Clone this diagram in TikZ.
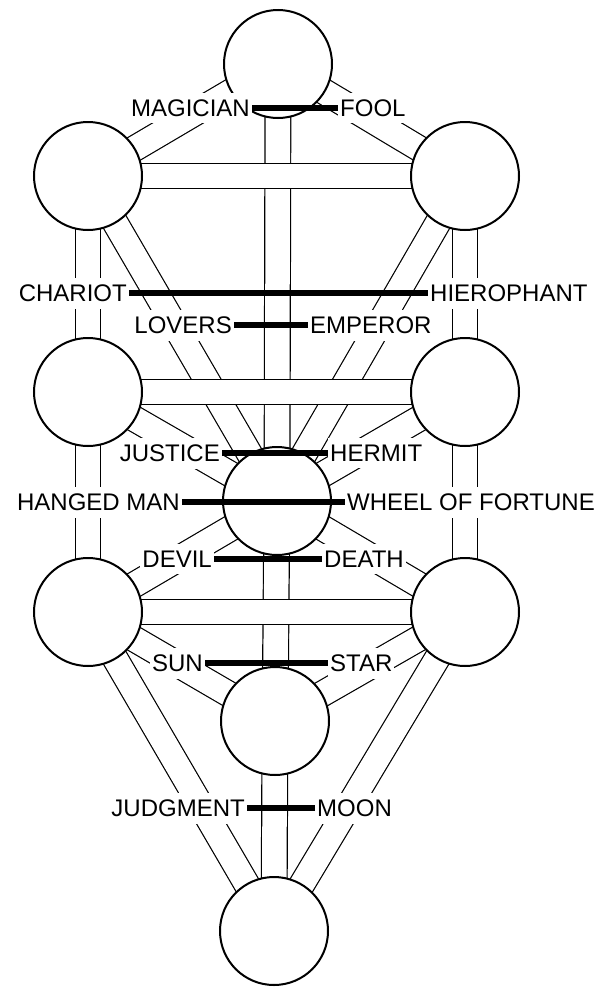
\documentclass[tikz,border=0pt]{standalone}
\usepackage{fontspec}
\setmainfont{Liberation Sans}
\usetikzlibrary{positioning, backgrounds}
\tikzset{
  every node/.style={font=\fontsize{24}{26}\selectfont},
  sephira/.style={
    circle, draw=black, line width=2pt, fill=white,
    minimum size=108pt, inner sep=0pt
  },
  channel/.style={double, draw=black, line width=1.2pt, double distance=24.5pt},
  card/.style={fill=white, inner xsep=2pt, inner ysep=7pt, text=black},
  bar/.style={line width=5.5pt},
}

\begin{document}
\begin{tikzpicture}[x=1pt, y=-1pt]
        \useasboundingbox (0,0) rectangle (597,988);
        % spheres
        \node[sephira] (kether) at (278,64) {};
        \node[sephira] (binah) at (88,176) {};
        \node[sephira] (chokmah) at (465,176) {};
        \node[sephira] (geburah) at (88,392) {};
        \node[sephira] (chesed) at (465,392) {};
        \node[sephira] (tiphareth) at (277,501) {};
        \node[sephira] (hod) at (88,612) {};
        \node[sephira] (netzach) at (465,612) {};
        \node[sephira] (yesod) at (275,721) {};
        \node[sephira] (malkuth) at (274,931) {};
        % paths
        \begin{scope}[on background layer]
          \draw[channel] (kether.center) -- (binah.center);
          \draw[channel] (kether.center) -- (chokmah.center);
          \draw[channel] (kether.center) -- (tiphareth.center);
          \draw[channel] (binah.center) -- (geburah.center);
          \draw[channel] (binah.center) -- (tiphareth.center);
          \draw[channel] (chokmah.center) -- (chesed.center);
          \draw[channel] (chokmah.center) -- (tiphareth.center);
          \draw[channel] (geburah.center) -- (tiphareth.center);
          \draw[channel] (geburah.center) -- (hod.center);
          \draw[channel] (chesed.center) -- (tiphareth.center);
          \draw[channel] (chesed.center) -- (netzach.center);
          \draw[channel] (tiphareth.center) -- (hod.center);
          \draw[channel] (tiphareth.center) -- (netzach.center);
          \draw[channel] (tiphareth.center) -- (yesod.center);
          \draw[channel] (hod.center) -- (malkuth.center);
          \draw[channel] (netzach.center) -- (malkuth.center);
          \draw[channel] (hod.center) -- (yesod.center);
          \draw[channel] (netzach.center) -- (yesod.center);
          \draw[channel] (yesod.center) -- (malkuth.center);
          % crossing paths lie on top
          \draw[channel] (binah.center) -- (chokmah.center);
          \draw[channel] (geburah.center) -- (chesed.center);
          \draw[channel] (hod.center) -- (netzach.center);
        \end{scope}
        % labels
        \node[card, anchor=east] (magician) at (252,108) {MAGICIAN};
        \node[card, right=86pt of magician] (fool) {FOOL};
        \node[card, anchor=east] (chariot) at (129,293) {CHARIOT};
        \node[card, right=299pt of chariot] (hierophant) {HIEROPHANT};
        \node[card, anchor=east] (lovers) at (234,325) {LOVERS};
        \node[card, right=74pt of lovers] (emperor) {EMPEROR};
        \node[card, anchor=east] (justice) at (222,453) {JUSTICE};
        \node[card, right=106pt of justice] (hermit) {HERMIT};
        \node[card, anchor=east] (hanged) at (182,502) {HANGED MAN};
        \node[card, right=163pt of hanged] (wheel) {WHEEL OF FORTUNE};
        \node[card, anchor=east] (devil) at (214,559) {DEVIL};
        \node[card, right=108pt of devil] (death) {DEATH};
        \node[card, anchor=east] (sun) at (205,663) {SUN};
        \node[card, right=123pt of sun] (star) {STAR};
        \node[card, anchor=east] (judgment) at (247,808) {JUDGMENT};
        \node[card, right=68pt of judgment] (moon) {MOON};
        % bars
        \draw[bar] (magician.east) -- (fool.west);
        \draw[bar] (chariot.east) -- (hierophant.west);
        \draw[bar] (lovers.east) -- (emperor.west);
        \draw[bar] (justice.east) -- (hermit.west);
        \draw[bar] (hanged.east) -- (wheel.west);
        \draw[bar] (devil.east) -- (death.west);
        \draw[bar] (sun.east) -- (star.west);
        \draw[bar] (judgment.east) -- (moon.west);
\end{tikzpicture}
\end{document}
